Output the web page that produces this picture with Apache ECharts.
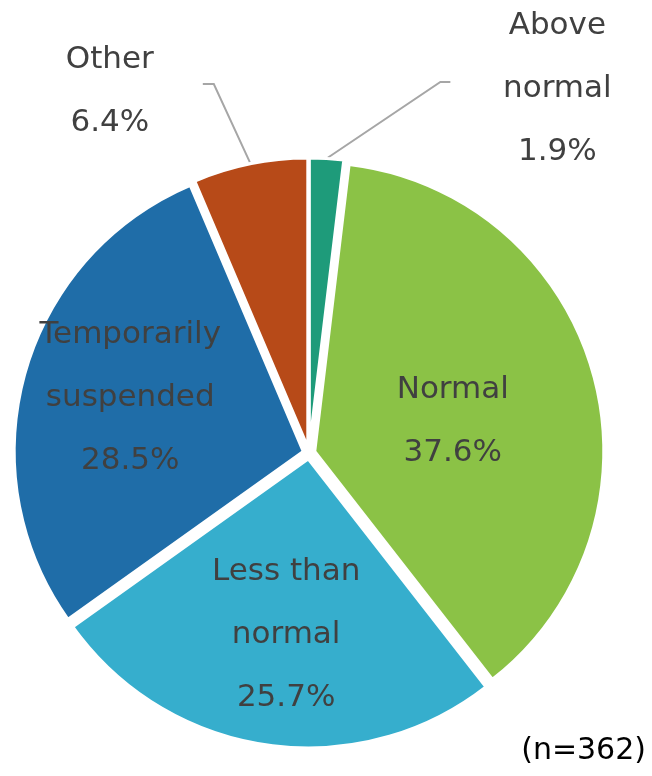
<!DOCTYPE html>
<html>
<head>
<meta charset="utf-8">
<script src="https://cdn.jsdelivr.net/npm/echarts@6/dist/echarts.min.js"></script>
<style>
  html, body { margin: 0; padding: 0; background: #fff; }
  #chart { width: 652px; height: 776px; }
</style>
</head>
<body>
<div id="chart"></div>
<script>
// data
var categories = ['Above normal', 'Normal', 'Less than normal', 'Temporarily suspended', 'Other'];
var labelNames = ['Above\nnormal', 'Normal', 'Less than\nnormal', 'Temporarily\nsuspended', 'Other'];
var shares = [1.9, 37.6, 25.7, 28.5, 6.4];
var sampleNote = '(n=362)';

var colors = ['#1e9b7a', '#8bc246', '#36aecd', '#1f6da8', '#b74a18'];
var outside = [true, false, false, false, true];
// label centres and leader lines (before the exploded-slice shift)
var labelPos = [[557, 95], [447, 423], [287, 629], [136, 400], [111, 97]];
var leaderLines = [
  [[327, 164], [440, 88], [450, 88]],
  null, null, null,
  [[251, 168], [215, 90], [204, 90]]
];

var chart = echarts.init(document.getElementById('chart'));

var pieData = categories.map(function (name, i) {
  return {
    name: name,
    value: shares[i],
    selected: true,
    itemStyle: { color: colors[i] },
    label: { position: outside[i] ? 'outside' : 'inside' },
    labelLine: { show: outside[i] }
  };
});

chart.setOption({
  animation: false,
  graphic: [{
    type: 'text',
    right: 6,
    top: 736,
    style: { text: sampleNote, font: '30px "DejaVu Sans"', fill: '#000' }
  }],
  series: [{
    type: 'pie',
    center: [309, 453],
    radius: 289,
    startAngle: 90,
    clockwise: true,
    selectedMode: 'multiple',
    selectedOffset: 6,
    avoidLabelOverlap: false,
    emphasis: { disabled: true },
    itemStyle: { borderColor: '#fff', borderWidth: 3 },
    label: {
      show: true,
      color: '#404040',
      fontFamily: 'DejaVu Sans',
      fontSize: 31,
      lineHeight: 63,
      align: 'center',
      formatter: function (p) {
        return labelNames[p.dataIndex] + '\n' + p.value.toFixed(1) + '%';
      }
    },
    labelLine: { lineStyle: { color: '#a6a6a6', width: 2 } },
    labelLayout: function (params) {
      var p = labelPos[params.dataIndex];
      var r = params.labelRect;
      var anchorX = params.align === 'left' ? r.x
        : params.align === 'right' ? r.x + r.width
        : r.x + r.width / 2;
      var out = {
        align: 'center',
        dx: p[0] - anchorX,
        dy: p[1] - (r.y + r.height / 2)
      };
      if (leaderLines[params.dataIndex]) out.labelLinePoints = leaderLines[params.dataIndex];
      return out;
    },
    data: pieData
  }]
});
</script>
</body>
</html>
